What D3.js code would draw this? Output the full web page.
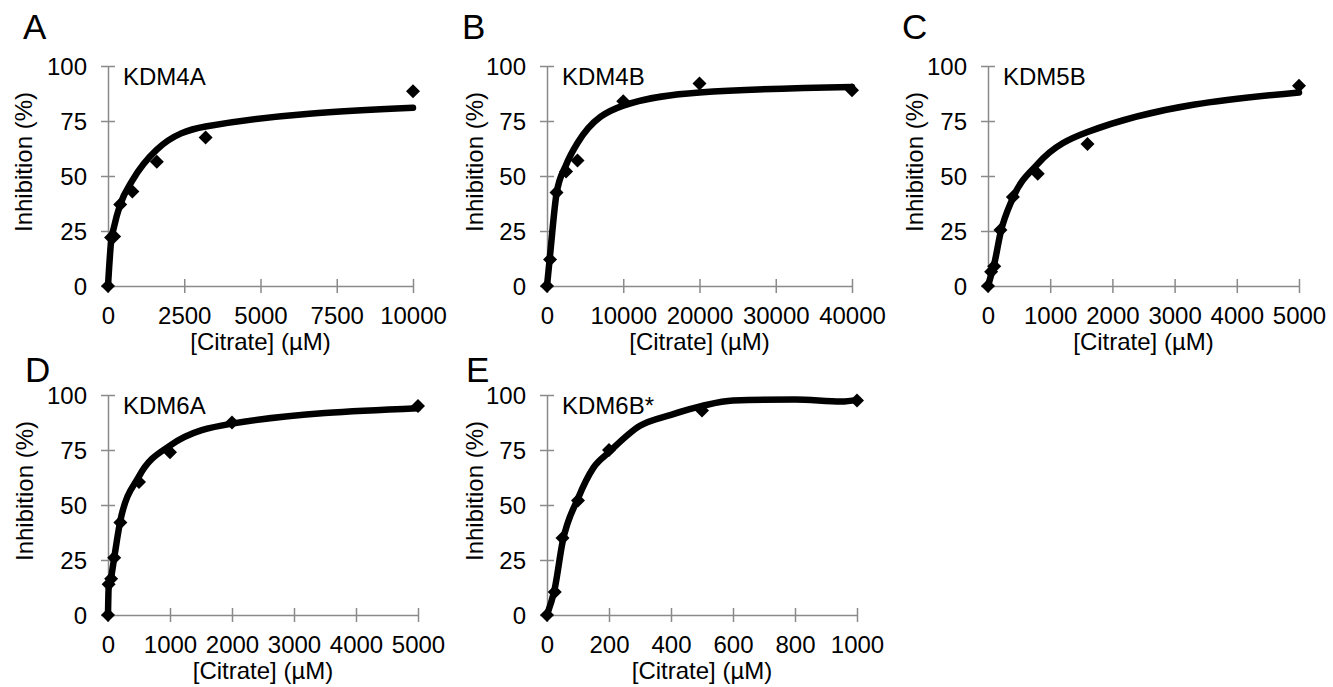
<!DOCTYPE html>
<html>
<head>
<meta charset="utf-8">
<script src="https://cdn.jsdelivr.net/npm/d3@7"></script>
<style>
  body { margin: 0; background: #fff; }
  text { font-family: "Liberation Sans", Arial, sans-serif; fill: #000; }
</style>
</head>
<body>
<script>
// measured data (concentration in uM, inhibition in %)
var kdm4aConc  = [0, 100, 200, 400, 800, 1600, 3200, 10000];
var kdm4aInhib = [0, 22, 22.5, 37, 43, 56.5, 67.5, 88.5];
var kdm4aFitConc = [0, 100, 200, 400, 800, 1600, 3200, 10000];
var kdm4aFit     = [0, 20, 27, 37, 48, 62, 72.5, 81];

var kdm4bConc  = [0, 400, 1250, 2500, 4000, 10000, 20000, 40000];
var kdm4bInhib = [0, 12, 42.5, 52, 57, 84, 92, 89];
var kdm4bFitConc = [0, 400, 1250, 2500, 4000, 10000, 20000, 40000];
var kdm4bFit     = [0, 14, 42, 55, 65, 82, 88, 90.5];

var kdm5bConc  = [0, 50, 100, 200, 400, 800, 1600, 5000];
var kdm5bInhib = [0, 6.5, 9, 25.5, 40.5, 51, 64.5, 91];
var kdm5bFitConc = [0, 50, 100, 200, 400, 800, 1600, 5000];
var kdm5bFit     = [0, 5, 10, 24, 40, 55.5, 70, 88];

var kdm6aConc  = [0, 10, 50, 100, 200, 500, 1000, 2000, 5000];
var kdm6aInhib = [0, 14, 16.5, 26, 42, 60.5, 74, 87.5, 95];
var kdm6aFitConc = [0, 10, 50, 100, 200, 500, 1000, 2000, 5000];
var kdm6aFit     = [0, 12, 17, 26, 43, 63, 77, 87, 94];

var kdm6bConc  = [0, 25, 50, 100, 200, 500, 1000];
var kdm6bInhib = [0, 10.5, 35, 52, 75, 93, 97.5];
var kdm6bFitConc = [0, 25, 50, 100, 150, 200, 300, 400, 500, 600, 800, 950, 1000];
var kdm6bFit     = [0, 12, 33, 53, 67, 74, 86, 91, 95, 97.5, 98, 97, 97.8];

// tick labels
var yTicks = [0, 25, 50, 75, 100];
var xTicksA = [0, 2500, 5000, 7500, 10000];
var xTicksB = [0, 10000, 20000, 30000, 40000];
var xTicksC = [0, 1000, 2000, 3000, 4000, 5000];
var xTicksD = [0, 1000, 2000, 3000, 4000, 5000];
var xTicksE = [0, 200, 400, 600, 800, 1000];

var xTitle = "[Citrate] (\u00b5M)";
var yTitle = "Inhibition (%)";

// panel layout
var panels = [
  {letter: "A", name: "KDM4A", left: 108, top: 66, width: 305, height: 220, lx: 23, ly: 39, yt: 32,
   ticks: xTicksA, conc: kdm4aConc, inhib: kdm4aInhib, fitConc: kdm4aFitConc, fit: kdm4aFit},
  {letter: "B", name: "KDM4B", left: 547, top: 66, width: 305, height: 220, lx: 462, ly: 39, yt: 483,
   ticks: xTicksB, conc: kdm4bConc, inhib: kdm4bInhib, fitConc: kdm4bFitConc, fit: kdm4bFit},
  {letter: "C", name: "KDM5B", left: 988, top: 66, width: 311, height: 220, lx: 902, ly: 39, yt: 923,
   ticks: xTicksC, conc: kdm5bConc, inhib: kdm5bInhib, fitConc: kdm5bFitConc, fit: kdm5bFit},
  {letter: "D", name: "KDM6A", left: 108, top: 395, width: 310, height: 220, lx: 25, ly: 382, yt: 33,
   ticks: xTicksD, conc: kdm6aConc, inhib: kdm6aInhib, fitConc: kdm6aFitConc, fit: kdm6aFit},
  {letter: "E", name: "KDM6B*", left: 547, top: 395, width: 310, height: 220, lx: 466, ly: 382, yt: 483,
   ticks: xTicksE, conc: kdm6bConc, inhib: kdm6bInhib, fitConc: kdm6bFitConc, fit: kdm6bFit}
];

var svg = d3.select("body").append("svg")
    .attr("width", 1333)
    .attr("height", 687);

var axisColor = "#8a8a8a";

panels.forEach(function(p) {
    var x = d3.scaleLinear().domain([0, p.ticks[p.ticks.length - 1]]).range([0, p.width]);
    var y = d3.scaleLinear().domain([0, 100]).range([p.height, 0]);

    // panel letter
    svg.append("text")
        .attr("x", p.lx)
        .attr("y", p.ly)
        .style("font-size", "35px")
        .text(p.letter);

    // y-axis title
    svg.append("text")
        .attr("transform", "translate(" + p.yt + "," + (p.top + p.height / 2 - 14) + ") rotate(-90)")
        .attr("text-anchor", "middle")
        .style("font-size", "24px")
        .text(yTitle);

    var g = svg.append("g")
        .attr("transform", "translate(" + p.left + "," + p.top + ")");

    // x axis
    var gx = g.append("g")
        .attr("transform", "translate(0," + p.height + ")")
        .call(d3.axisBottom(x).tickValues(p.ticks).tickSizeOuter(0).tickFormat(d3.format("d")));
    gx.selectAll(".tick line").attr("y1", -7).attr("y2", 7);
    gx.selectAll(".tick text").attr("y", 38).attr("dy", null);

    // y axis
    var gy = g.append("g")
        .call(d3.axisLeft(y).tickValues(yTicks).tickSizeOuter(0));
    gy.selectAll(".tick line").attr("x1", -7).attr("x2", 7);
    gy.selectAll(".tick text").attr("x", -21).attr("dy", "0.36em");

    [gx, gy].forEach(function(a) {
        a.select(".domain").attr("stroke", axisColor).attr("stroke-width", 1.5);
        a.selectAll(".tick line").attr("stroke", axisColor).attr("stroke-width", 1.5);
        a.selectAll(".tick text")
            .attr("fill", "#000")
            .style("font-size", "24px")
            .style("font-family", "'Liberation Sans', Arial, sans-serif");
    });

    // x-axis title
    g.append("text")
        .attr("x", p.width / 2)
        .attr("y", p.height + 64)
        .attr("text-anchor", "middle")
        .style("font-size", "24px")
        .text(xTitle);

    // enzyme name
    g.append("text")
        .attr("x", 15)
        .attr("y", 19)
        .style("font-size", "24px")
        .text(p.name);

    // fitted curve
    var fitData = p.fitConc.map(function(c, i) { return {c: c, v: p.fit[i]}; });
    var line = d3.line()
        .x(function(d) { return x(d.c); })
        .y(function(d) { return y(d.v); })
        .curve(d3.curveMonotoneX);
    g.append("path")
        .datum(fitData)
        .attr("fill", "none")
        .attr("stroke", "#000")
        .attr("stroke-width", 6.5)
        .attr("stroke-linejoin", "round")
        .attr("stroke-linecap", "round")
        .attr("d", line);

    // data points
    var pts = p.conc.map(function(c, i) { return {c: c, v: p.inhib[i]}; });
    g.selectAll(".pt")
        .data(pts)
        .enter().append("path")
        .attr("class", "pt")
        .attr("transform", function(d) { return "translate(" + x(d.c) + "," + y(d.v) + ")"; })
        .attr("d", d3.symbol().type(d3.symbolDiamond2).size(125))
        .attr("fill", "#000");
});
</script>
</body>
</html>
